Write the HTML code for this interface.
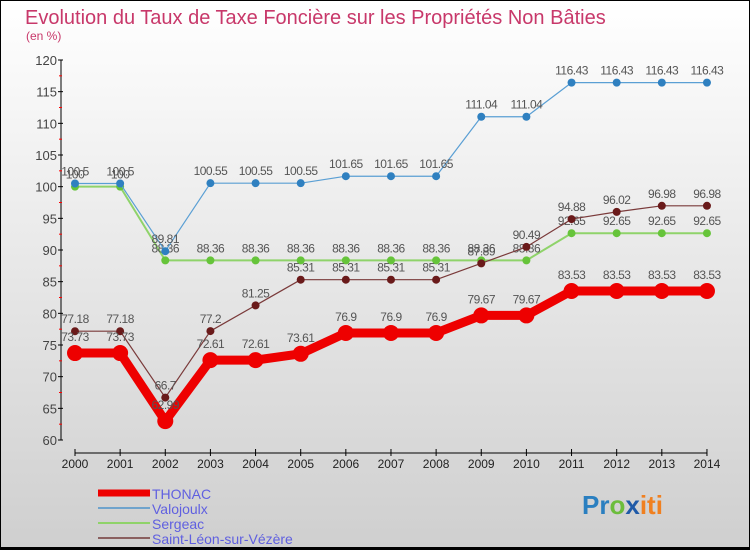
<!DOCTYPE html>
<html><head><meta charset="utf-8"><style>
body{margin:0}
#c{width:750px;height:550px;position:relative;box-sizing:border-box;border:1px solid #000;border-bottom:3px solid #000;background:linear-gradient(#fff,#cfcfcf);font-family:"Liberation Sans",sans-serif;overflow:hidden}
</style></head><body>
<div id="c">
<svg id="s" width="750" height="550" style="position:absolute;left:-1px;top:-1px">
<text x="25" y="24" font-size="20" fill="#c8386a">Evolution du Taux de Taxe Foncière sur les Propriétés Non Bâties</text>
<text x="26" y="40" font-size="12" fill="#c8386a">(en %)</text>
<g id="axes"></g><g id="series"></g><g id="legend"></g>
<text x="582" y="514" font-size="26" font-weight="bold"><tspan fill="#2a7fc0">Pr</tspan><tspan fill="#6cbd3c">o</tspan><tspan fill="#1f5aa8">x</tspan><tspan fill="#f08020">iti</tspan></text>
</svg>
</div>
<script>
const years=[2000,2001,2002,2003,2004,2005,2006,2007,2008,2009,2010,2011,2012,2013,2014];
const yTicks=[60,65,70,75,80,85,90,95,100,105,110,115,120];
const thonac=[73.73,73.73,62.99,72.61,72.61,73.61,76.9,76.9,76.9,79.67,79.67,83.53,83.53,83.53,83.53];
const valojoulx=[100.5,100.5,89.81,100.55,100.55,100.55,101.65,101.65,101.65,111.04,111.04,116.43,116.43,116.43,116.43];
const sergeac=[100,100,88.36,88.36,88.36,88.36,88.36,88.36,88.36,88.36,88.36,92.65,92.65,92.65,92.65];
const stleon=[77.18,77.18,66.7,77.2,81.25,85.31,85.31,85.31,85.31,87.89,90.49,94.88,96.02,96.98,96.98];
const NS='http://www.w3.org/2000/svg';
const X=i=>75+i*45.14, Y=v=>440-(v-60)*(380/60);
function mk(t,a,p,txt){const e=document.createElementNS(NS,t);for(const k in a)e.setAttribute(k,a[k]);if(txt!=null)e.textContent=txt;p.appendChild(e);return e;}
const ax=document.getElementById('axes');
let e=mk('line',{x1:61,y1:60,x2:61,y2:440,stroke:'#000'},ax);


e=mk('line',{x1:75,y1:453,x2:707,y2:453,stroke:'#000'},ax);


yTicks.forEach((v,i)=>{mk('line',{x1:58,x2:63,y1:Y(v),y2:Y(v),stroke:'#000'},ax);
 if(i<yTicks.length-1)mk('line',{x1:59,x2:62,y1:Y(v+2.5),y2:Y(v+2.5),stroke:'#f00'},ax);
 e=mk('text',{x:57,y:Y(v)+5,'font-size':13,'text-anchor':'end',fill:'#444'},ax,v);
 
 });
years.forEach((y,i)=>{mk('line',{x1:X(i),x2:X(i),y1:449,y2:456,stroke:'#000'},ax);
 e=mk('text',{x:X(i),y:468,'font-size':12,'text-anchor':'middle',fill:'#222'},ax,y);
 
 });
const sg=document.getElementById('series');
function draw(vals,col,dot,w,r,name,dy){
 const g=mk('g',{},sg);
 
 
 mk('polyline',{points:vals.map((v,i)=>X(i)+','+Y(v)).join(' '),fill:'none',stroke:col,'stroke-width':w,'stroke-linejoin':'round'},g);
 vals.forEach((v,i)=>{const c=mk('circle',{cx:X(i),cy:Y(v),r:r,fill:dot},g);
  
  
  const t=mk('text',{x:X(i),y:Y(v)+dy,'font-size':12,'text-anchor':'middle',fill:'#555','letter-spacing':'-0.5'},g,String(v));
  
  });
}
draw(sergeac,'#8fd36a','#66c43a',2,4,'sergeac',-8);
draw(valojoulx,'#5a9fd4','#2f80c0',1.2,4,'valojoulx',-8);
draw(stleon,'#7a3a3a','#6a1a1a',1.2,4,'saint-leon',-8);
draw(thonac,'#ee0000','#ee0000',9,8,'thonac',-12);
const lg=document.getElementById('legend');
[['THONAC','#ee0000',7],['Valojoulx','#6fa3cc',2],['Sergeac','#8fd36a',2],['Saint-Léon-sur-Vézère','#8a6060',2]].forEach((d,i)=>{
 const y=493+i*15;
 const l=mk('line',{x1:98,x2:150,y1:y,y2:y,stroke:d[1],'stroke-width':d[2]},lg);
 
 
 const t=mk('text',{x:152,y:y+6,'font-size':14,fill:'#6060e0'},lg,d[0]);
 
 
});
</script>
</body></html>
